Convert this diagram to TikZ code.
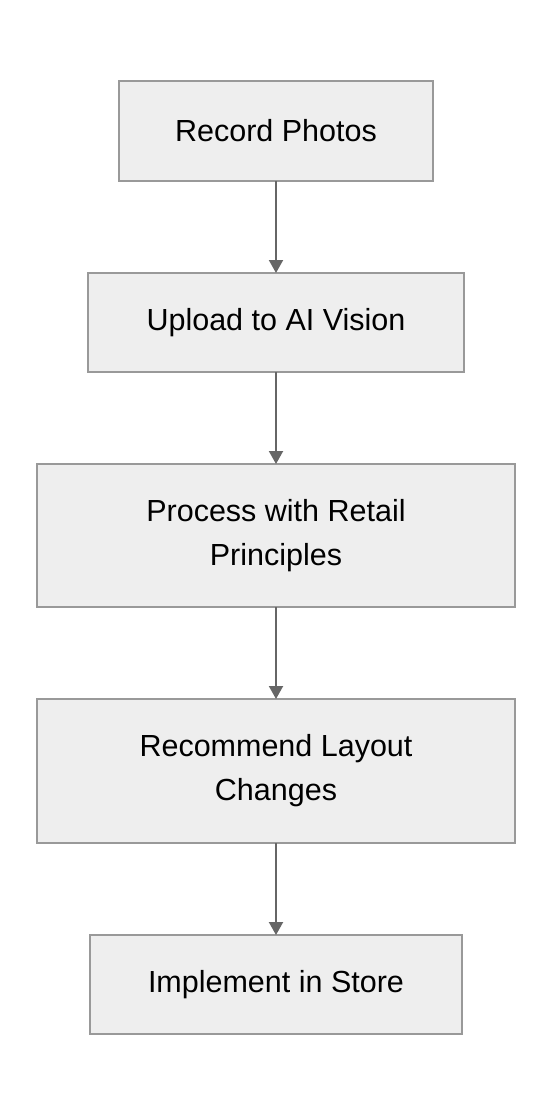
\documentclass[tikz,border=0pt]{standalone}
\usepackage{fontspec}
\setmainfont{Liberation Sans}
\usepackage{tikz}
\usetikzlibrary{shapes,arrows.meta,positioning}
\definecolor{boxfill}{HTML}{EEEEEE}
\definecolor{boxline}{HTML}{999999}
\definecolor{arrowcolor}{HTML}{666666}

\begin{document}
\begin{tikzpicture}[x=1bp,y=-1bp]
  %%Create a style for the boxes and the arrows we are using
  \tikzset{normal arrow/.style={draw,-{Triangle[length=13bp,width=14bp]},line width=2bp,color=arrowcolor}}
  \tikzset{stage box/.style={draw=boxline,fill=boxfill,line width=1.5bp,outer sep=0pt,
      align=center,font=\fontsize{30.5bp}{44bp}\selectfont}}
  \tikzset{node distance=92bp}
  %%Fix the margins of the page
  \useasboundingbox (0,0) rectangle (552,1116);
  %%Place the stages one below the other
  \node[stage box,minimum width=314bp,minimum height=100bp] (record) at (276,131) {Record Photos};
  \node[stage box,minimum width=376bp,minimum height=99bp,below=of record] (upload) {Upload to AI Vision};
  \node[stage box,minimum width=478bp,minimum height=143bp,below=of upload] (process) {Process with Retail\\Principles};
  \node[stage box,minimum width=478bp,minimum height=144bp,below=of process] (recommend) {Recommend Layout\\Changes};
  \node[stage box,minimum width=372bp,minimum height=99bp,below=of recommend] (implement) {Implement in Store};
  %%Drawing the arrows
  \path[normal arrow] (record) -- (upload);
  \path[normal arrow] (upload) -- (process);
  \path[normal arrow] (process) -- (recommend);
  \path[normal arrow] (recommend) -- (implement);
\end{tikzpicture}
\end{document}
